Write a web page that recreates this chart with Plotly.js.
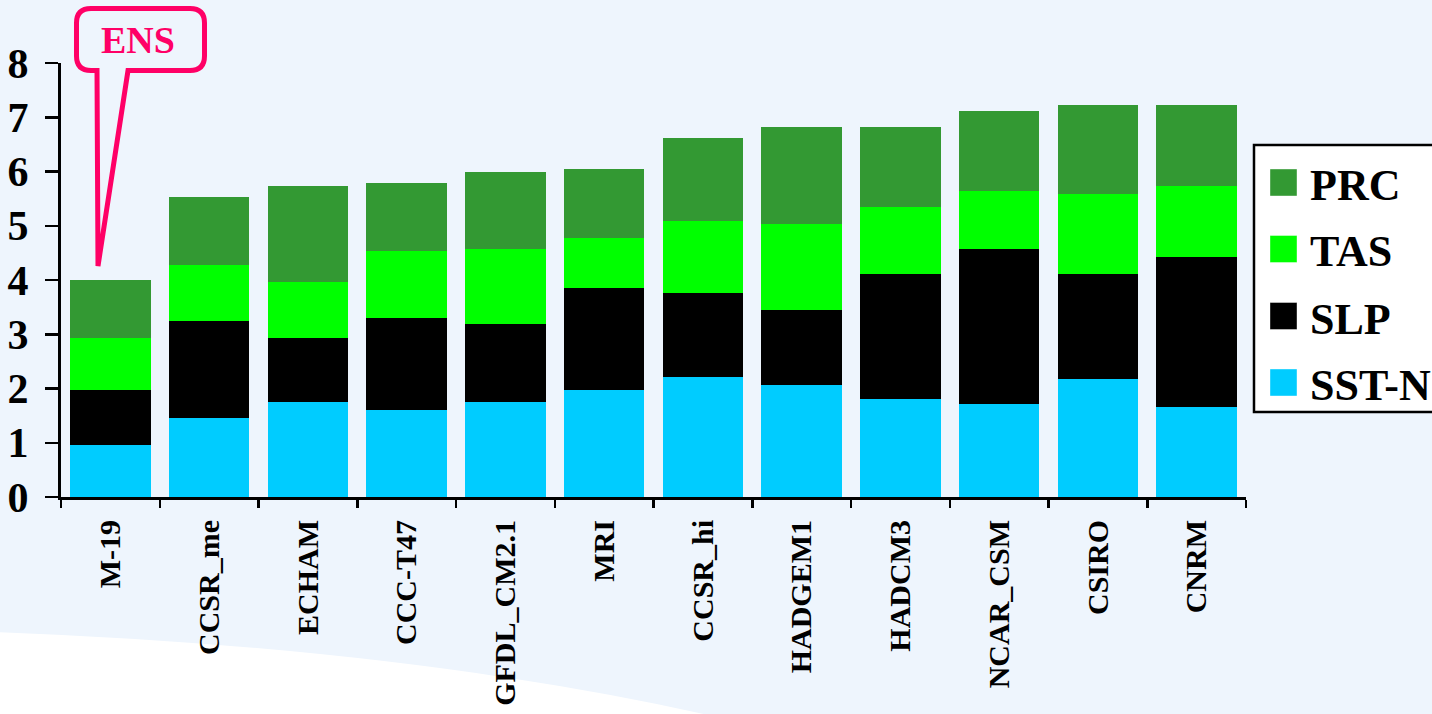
<!DOCTYPE html>
<html>
<head>
<meta charset="utf-8">
<script src="https://cdn.plot.ly/plotly-3.0.1.min.js"></script>
<style>
  html, body { margin: 0; padding: 0; background: #EEF5FD; }
  #chart { width: 1432px; height: 714px; }
</style>
</head>
<body>
<div id="chart"></div>
<script>
// ---- Data ----
const models = ["M-19", "CCSR_me", "ECHAM", "CCC-T47", "GFDL_CM2.1", "MRI",
                "CCSR_hi", "HADGEM1", "HADCM3", "NCAR_CSM", "CSIRO", "CNRM"];
const sstN = [0.95, 1.46, 1.76, 1.61, 1.76, 1.97, 2.22, 2.07, 1.81, 1.71, 2.17, 1.66];
const slp  = [1.02, 1.79, 1.18, 1.69, 1.43, 1.89, 1.54, 1.38, 2.30, 2.86, 1.94, 2.76];
const tas  = [0.97, 1.02, 1.02, 1.23, 1.38, 0.92, 1.33, 1.59, 1.23, 1.07, 1.48, 1.32];
const prc  = [1.06, 1.26, 1.78, 1.26, 1.43, 1.27, 1.52, 1.78, 1.48, 1.48, 1.64, 1.49];
const seriesNames = ["SST-N", "SLP", "TAS", "PRC"];
const yTicks = [0, 1, 2, 3, 4, 5, 6, 7, 8];
const calloutText = "ENS";

// ---- Styles ----
const colors = {"SST-N": "#00CCFF", "SLP": "#000000", "TAS": "#00FF00", "PRC": "#339933"};
const FONT = "Liberation Serif, Times New Roman, serif";
const PINK = "#FF0066";
const W = 1432, H = 714;
const M = {l: 61, r: 186, t: 63, b: 217};
const plotW = W - M.l - M.r, plotH = H - M.t - M.b;
// pixel -> paper helpers for decorations
const px = x => ((x - M.l) / plotW).toFixed(5);
const py = y => ((H - M.b - y) / plotH).toFixed(5);

const valuesBy = {"SST-N": sstN, "SLP": slp, "TAS": tas, "PRC": prc};
const traces = seriesNames.map(n => ({
  type: "bar", name: n, x: models, y: valuesBy[n],
  marker: {color: colors[n], line: {width: 0}},
  showlegend: false, hoverinfo: "x+y+name"
}));

// callout path (pixel coords converted to paper)
function P(cmds) {
  return cmds.map(c => {
    const [op, ...nums] = c;
    const out = [];
    for (let i = 0; i < nums.length; i += 2) out.push(px(nums[i]) + "," + py(nums[i + 1]));
    return op + out.join(" ");
  }).join(" ") + " Z";
}
const calloutPath = P([
  ["M", 97, 70.5], ["L", 98, 266], ["L", 128, 70.5], ["L", 190, 70.5],
  ["Q", 204.5, 70.5, 204.5, 56], ["L", 204.5, 23], ["Q", 204.5, 8.5, 190, 8.5],
  ["L", 91, 8.5], ["Q", 76.5, 8.5, 76.5, 23], ["L", 76.5, 56], ["Q", 76.5, 70.5, 91, 70.5]
]);

// background swoosh
const swoosh = "M" + px(-5) + "," + py(632) + " Q" + px(420) + "," + py(648) + " " + px(730) + "," + py(720) +
               " L" + px(-5) + "," + py(720) + " Z";

const shapes = [
  {type: "path", xref: "paper", yref: "paper", path: swoosh, fillcolor: "#FFFFFF", line: {width: 0}, layer: "below"},
  {type: "path", xref: "paper", yref: "paper", path: calloutPath, fillcolor: "rgba(0,0,0,0)",
   line: {color: PINK, width: 5}, layer: "above"},
  // legend box
  {type: "rect", xref: "paper", yref: "paper", x0: px(1254), x1: px(1480), y0: py(412), y1: py(145),
   fillcolor: "#FFFFFF", line: {color: "#000000", width: 2.5}, layer: "above"}
];
const annotations = [
  {xref: "paper", yref: "paper", x: px(138), y: py(40), text: calloutText, showarrow: false,
   xanchor: "center", yanchor: "middle", font: {family: FONT, size: 38, color: PINK, weight: "bold"}}
];
const legendOrder = ["PRC", "TAS", "SLP", "SST-N"];
const legendY = [182.5, 249, 316, 382.5];
legendOrder.forEach((n, i) => {
  shapes.push({type: "rect", xref: "paper", yref: "paper", x0: px(1270), x1: px(1297),
    y0: py(legendY[i] + 13.5), y1: py(legendY[i] - 13.5), fillcolor: colors[n],
    line: {color: "rgba(255,255,255,0.4)", width: 1}, layer: "above"});
  annotations.push({xref: "paper", yref: "paper", x: px(1308), y: py(legendY[i]), text: n,
    showarrow: false, xanchor: "left", yanchor: "middle", yshift: -3,
    font: {family: FONT, size: 44, color: "#000000", weight: "bold"}});
});

const layout = {
  width: W, height: H,
  margin: M,
  paper_bgcolor: "#EEF5FD",
  plot_bgcolor: "rgba(0,0,0,0)",
  barmode: "stack",
  bargap: 0.187,
  showlegend: false,
  xaxis: {
    type: "category", tickangle: -90, tickson: "boundaries",
    ticks: "outside", ticklen: 8, tickwidth: 2.5, tickcolor: "#000",
    showline: true, linecolor: "#000", linewidth: 3,
    showgrid: false, zeroline: false, ticklabelstandoff: 8,
    tickfont: {family: FONT, size: 30, color: "#000", weight: "bold"}
  },
  yaxis: {
    range: [0, 8], tickvals: yTicks, ticktext: yTicks.map(String),
    ticks: "outside", ticklen: 13, tickwidth: 2.5, tickcolor: "#000",
    showline: true, linecolor: "#000", linewidth: 3,
    showgrid: false, zeroline: false, ticklabelstandoff: 8,
    tickfont: {family: FONT, size: 42, color: "#000", weight: "bold"}
  },
  shapes: shapes,
  annotations: annotations
};

Plotly.newPlot("chart", traces, layout, {displayModeBar: false, staticPlot: true});
</script>
</body>
</html>
